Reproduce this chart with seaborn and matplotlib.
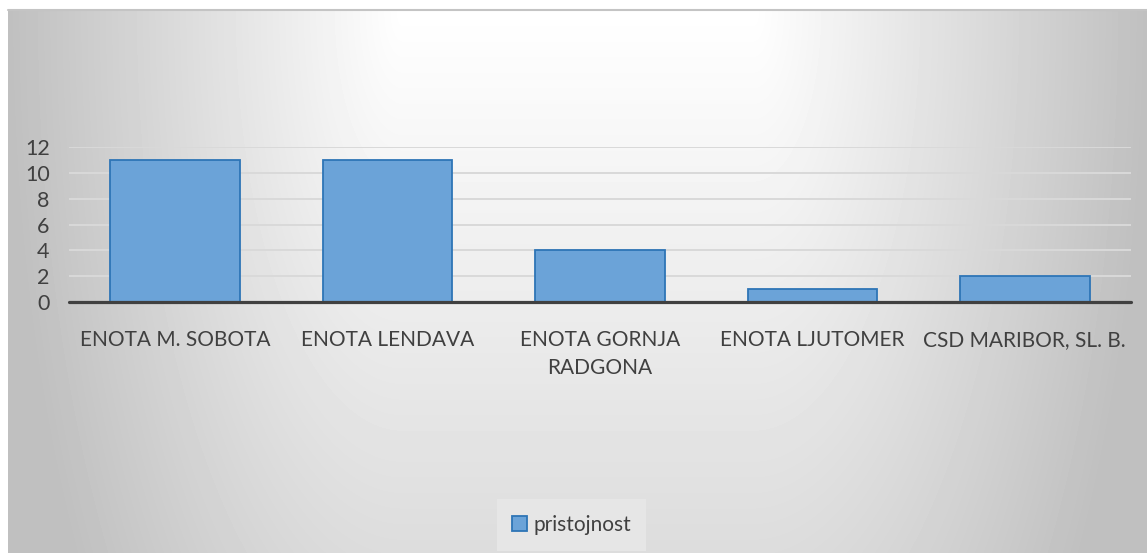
import numpy as np
import matplotlib
matplotlib.use("Agg")
import matplotlib.pyplot as plt
import seaborn as sns

# data
categories = ["ENOTA M. SOBOTA", "ENOTA LENDAVA", "ENOTA GORNJA\nRADGONA",
              "ENOTA LJUTOMER", "CSD MARIBOR, SL. B."]
values = [11, 11, 4, 1, 2]
series_name = "pristojnost"
y_ticks = [0, 2, 4, 6, 8, 10, 12]

sns.set_theme(style="white")
plt.rcParams["font.family"] = ["Lato", "DejaVu Sans"]

W, H = 1147, 553
fig = plt.figure(figsize=(W / 100, H / 100), dpi=100)
fig.patch.set_facecolor("white")

# ---- grey background, white near the top centre ----
bw, bh = W - 8, H - 10
xx, yy = np.meshgrid(np.arange(bw), np.arange(bh))
fx = 91 * np.clip(np.abs(xx - bw / 2) / 565.0 - 0.31, 0, None)
fy = 0.064 * yy
shade = np.clip(255 - np.sqrt(fx ** 2 + fy ** 2), 192, 255) / 255.0
bg = fig.add_axes([8 / W, 0, bw / W, bh / H], zorder=0)
bg.imshow(shade, cmap="gray", vmin=0, vmax=1, aspect="auto",
          interpolation="bilinear")
bg.axis("off")
fig.add_artist(plt.Line2D([8 / W, 1], [1 - 10 / H, 1 - 10 / H],
                          color="#c4c4c4", lw=1.5, transform=fig.transFigure))

# ---- bar chart ----
ax = fig.add_axes([69 / W, 1 - 302 / H, (1131 - 69) / W, (302 - 147) / H],
                  zorder=1)
ax.patch.set_alpha(0)
sns.barplot(x=categories, y=values, color="#6ba3d8", edgecolor="#2e75b6",
            linewidth=1.3, width=0.61, saturation=1, label=series_name,
            ax=ax, zorder=3)

ax.set_ylim(0, 12)
ax.set_xlim(-0.5, len(categories) - 0.5)
ax.set_yticks(y_ticks)
for t in y_ticks[1:]:
    ax.axhline(t, color="#d9d9d9", lw=1.4, zorder=1)
ax.axhline(0, color="#404040", lw=2.3, zorder=4, clip_on=False)

for s in ax.spines.values():
    s.set_visible(False)
ax.tick_params(axis="both", length=0, colors="#404040")
ax.tick_params(axis="x", pad=20, labelsize=15)
ax.tick_params(axis="y", pad=14, labelsize=15.5)
ax.set_xlabel("")
ax.set_ylabel("")
for lab in ax.get_xticklabels():
    lab.set_linespacing(1.5)

leg = ax.legend(loc="center", bbox_to_anchor=(571.5 / W, 1 - 525 / H),
                bbox_transform=fig.transFigure, fontsize=15,
                handlelength=0.7, handleheight=0.7, handletextpad=0.3,
                borderpad=0.75, borderaxespad=0, frameon=True, fancybox=False)
leg.get_frame().set_facecolor("#e6e6e6")
leg.get_frame().set_edgecolor("none")
leg.get_frame().set_alpha(1)
for txt in leg.get_texts():
    txt.set_color("#404040")

fig.savefig("out.png", dpi=100)
